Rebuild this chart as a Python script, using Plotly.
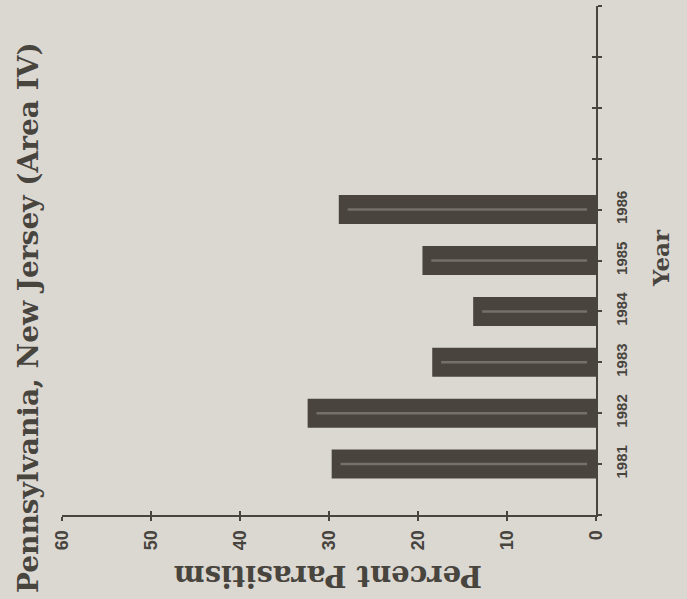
import plotly.graph_objects as go

# ---- data ----
years = [1981, 1982, 1983, 1984, 1985, 1986]
percent_parasitism = [29.7, 32.4, 18.4, 13.8, 19.5, 28.9]
year_ticks = [1980, 1981, 1982, 1983, 1984, 1985, 1986, 1987, 1988, 1989, 1990]
year_ticktext = ["", "1981", "1982", "1983", "1984", "1985", "1986", "", "", "", ""]
value_ticks = [0, 10, 20, 30, 40, 50, 60]
value_ticktext = ["0", "10", "20", "30", "40", "50", "60"]
title_text = "Pennsylvania, New Jersey (Area IV)"
value_title = "Percent Parasitism"
category_title = "Year"

# ---- style ----
BG = "#dbd8d2"
INK = "#48443e"
BAR = "#4a443f"
STREAK = "#75706a"
SERIF = "DejaVu Serif"
SANS = "Liberation Sans"

W, H = 687, 599
ML, MR, MT, MB = 62, 91, 6, 84
PW = W - ML - MR
PH = H - MT - MB


def px_to_paper(px, py):
    return (px - ML) / PW, 1 - (py - MT) / PH


fig = go.Figure()
fig.add_trace(go.Bar(
    x=percent_parasitism, y=years, orientation="h",
    width=0.57, marker=dict(color=BAR, line=dict(width=0)),
    showlegend=False, hoverinfo="x+y",
))
# lighter streak along the middle of each bar (scan texture)
fig.add_trace(go.Bar(
    x=[v - 2.0 for v in percent_parasitism], base=1.0, y=years, orientation="h",
    width=0.05, marker=dict(color=STREAK, line=dict(width=0)),
    showlegend=False, hoverinfo="skip",
))
# invisible trace to anchor secondary (tick-only) axes
fig.add_trace(go.Scatter(x=[0], y=[1980], xaxis="x2", yaxis="y2",
                         mode="markers", marker=dict(opacity=0),
                         showlegend=False, hoverinfo="skip"))

tick_font = dict(family=SANS, size=18, color=INK, weight="bold")
year_font = dict(family=SANS, size=15, color=INK, weight="bold")

fig.update_layout(
    width=W, height=H,
    margin=dict(l=ML, r=MR, t=MT, b=MB),
    paper_bgcolor=BG, plot_bgcolor=BG,
    barmode="overlay",
    xaxis=dict(range=[60, 0], tickvals=value_ticks, ticktext=value_ticktext,
               tickangle=-90, ticks="outside", ticklen=4, tickwidth=2,
               tickcolor=INK, showline=True, linecolor=INK, linewidth=2,
               showgrid=False, zeroline=False, tickfont=tick_font,
               ticklabelstandoff=2),
    yaxis=dict(range=[1980, 1990], side="right", tickvals=year_ticks,
               ticktext=year_ticktext, tickangle=-90, ticks="outside",
               ticklen=4, tickwidth=2, tickcolor=INK, showline=True,
               linecolor=INK, linewidth=2, showgrid=False, zeroline=False,
               tickfont=year_font, ticklabelstandoff=7),
    xaxis2=dict(range=[60, 0], overlaying="x", anchor="y2", side="bottom",
                tickvals=value_ticks, showticklabels=False, ticks="inside",
                ticklen=4, tickwidth=2, tickcolor=INK, showline=False,
                showgrid=False, zeroline=False),
    yaxis2=dict(range=[1980, 1990], overlaying="y", anchor="x2", side="right",
                tickvals=year_ticks, showticklabels=False, ticks="inside",
                ticklen=4, tickwidth=2, tickcolor=INK, showline=False,
                showgrid=False, zeroline=False),
)

tx, ty = px_to_paper(28, 318)
vx, vy = px_to_paper(328, 576)
cx, cy = px_to_paper(660, 258)
fig.add_annotation(text=title_text, x=tx, y=ty, xref="paper", yref="paper",
                   textangle=-90, showarrow=False, xanchor="center", yanchor="middle",
                   font=dict(family=SERIF, size=28, color=INK, weight="bold"))
fig.add_annotation(text=value_title, x=vx, y=vy, xref="paper", yref="paper",
                   textangle=180, showarrow=False, xanchor="center", yanchor="middle",
                   font=dict(family=SERIF, size=29, color=INK, weight="bold"))
fig.add_annotation(text=category_title, x=cx, y=cy, xref="paper", yref="paper",
                   textangle=-90, showarrow=False, xanchor="center", yanchor="middle",
                   font=dict(family=SERIF, size=23, color=INK, weight="bold"))

fig.write_html(
    "out.html",
    config={"displayModeBar": False},
    post_script="document.body.style.margin='0';document.body.style.background='%s';" % BG,
)
